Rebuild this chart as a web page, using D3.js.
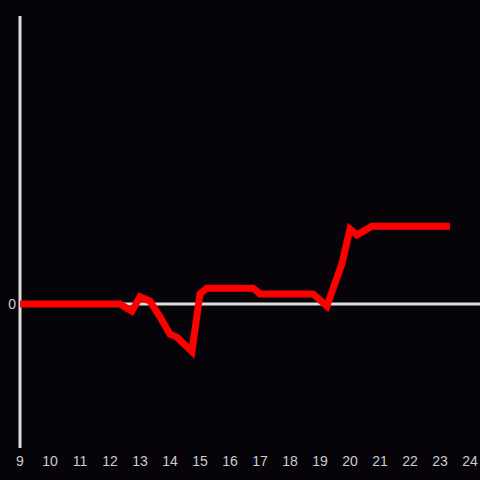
<!DOCTYPE html>
<html>
<head>
<meta charset="utf-8">
<script src="https://cdn.jsdelivr.net/npm/d3@7"></script>
<style>
  html, body { margin: 0; padding: 0; background: #060408; }
  svg { display: block; }
</style>
</head>
<body>
<svg width="480" height="480"></svg>
<script>
// hours of day and the value at each
const hours = [9, 12.33, 12.73, 13.0, 13.33, 13.67, 14.0, 14.23, 14.73, 15.0, 15.23, 16.77, 17.0, 18.77, 19.23, 19.73, 20.0, 20.23, 20.73, 23.33];
const values = [0, 0, -0.05, 0.05, 0.02, -0.09, -0.21, -0.23, -0.33, 0.07, 0.11, 0.11, 0.07, 0.07, -0.015, 0.28, 0.52, 0.48, 0.54, 0.54];
const xTicks = d3.range(9, 25);

(function (d3) {
    'use strict';
    const svg = d3.select('svg');

    const x = d3.scaleLinear().domain([9, 24]).range([20, 470]);
    const y = d3.scaleLinear().domain([-1, 2]).range([448, 16]);

    const points = hours.map((h, i) => ({ h, v: values[i] }));

    // y axis line
    svg.append('line')
        .attr('x1', x(9)).attr('x2', x(9))
        .attr('y1', y(2)).attr('y2', y(-1))
        .attr('stroke', '#dddddd')
        .attr('stroke-width', 3);

    // zero line
    svg.append('line')
        .attr('x1', x(9)).attr('x2', 480)
        .attr('y1', y(0)).attr('y2', y(0))
        .attr('stroke', '#dddddd')
        .attr('stroke-width', 3);

    svg.append('text')
        .attr('x', x(9) - 4)
        .attr('y', y(0))
        .attr('dy', '0.35em')
        .attr('text-anchor', 'end')
        .attr('fill', '#cccccc')
        .style('font', '14px "Liberation Sans", Arial, sans-serif')
        .text('0');

    svg.selectAll('text.xtick').data(xTicks)
      .enter().append('text')
        .attr('class', 'xtick')
        .attr('x', d => x(d))
        .attr('y', 461)
        .attr('dy', '0.35em')
        .attr('text-anchor', 'middle')
        .attr('fill', '#cccccc')
        .style('font', '14px "Liberation Sans", Arial, sans-serif')
        .text(d => d);

    const line = d3.line()
        .x(d => x(d.h))
        .y(d => y(d.v));

    svg.append('path')
        .datum(points)
        .attr('d', line)
        .attr('fill', 'none')
        .attr('stroke', '#ff0000')
        .attr('stroke-width', 7);
}(d3));
</script>
</body>
</html>
